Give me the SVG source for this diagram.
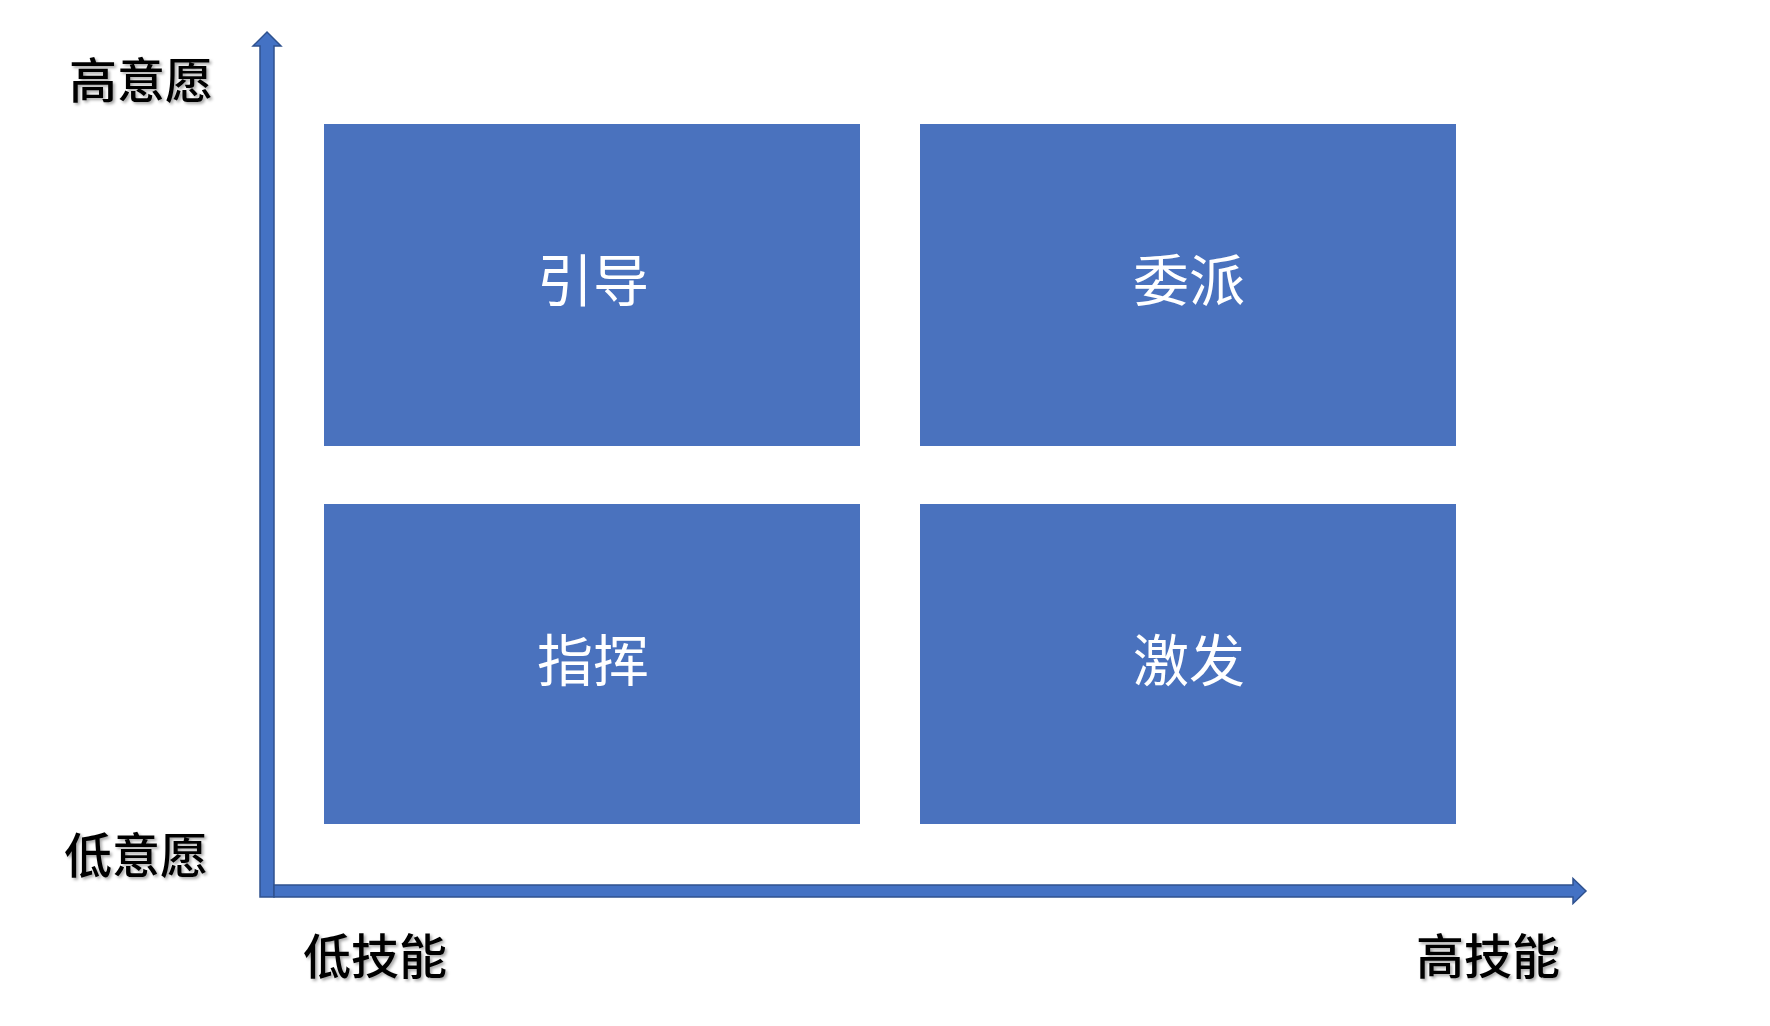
<svg xmlns="http://www.w3.org/2000/svg" width="1770" height="1026" viewBox="0 0 1770 1026">
  <style>
    .box { fill: #4A72BE; }
    .arrow { fill: #4472C4; stroke: #2F528F; stroke-width: 1.5; stroke-linejoin: miter; }
    .lbl { font-family: "Noto Sans CJK SC", "Noto Sans", sans-serif; font-size: 56px; fill: #FFFFFF; text-anchor: middle; dominant-baseline: central; }
    .axis { font-family: "Noto Sans CJK SC", "Noto Sans", sans-serif; font-size: 48px; font-weight: 500; fill: #000000; filter: url(#shadow); }
  </style>
  <defs>
    <filter id="shadow" x="-10%" y="-20%" width="130%" height="160%">
      <feDropShadow dx="2" dy="2" stdDeviation="1.5" flood-color="#000000" flood-opacity="0.35"/>
    </filter>
  </defs>
  <rect width="1770" height="1026" fill="#FFFFFF"/>

  <g id="connectors">
    <polygon class="arrow" points="260,897 260,46 253,46 267,32 281,46 274,46 274,897"/>
    <polygon class="arrow" points="274,885 1573,885 1573,878.5 1586,891 1573,903.5 1573,897 274,897"/>
  </g>

  <g id="node-yindao">
    <rect class="box" x="324" y="124" width="536" height="322"/>
    <text class="lbl" x="593" y="276">引导</text>
  </g>
  <g id="node-weipai">
    <rect class="box" x="920" y="124" width="536" height="322"/>
    <text class="lbl" x="1189" y="276">委派</text>
  </g>
  <g id="node-zhihui">
    <rect class="box" x="324" y="504" width="536" height="320"/>
    <text class="lbl" x="593" y="656">指挥</text>
  </g>
  <g id="node-jifa">
    <rect class="box" x="920" y="504" width="536" height="320"/>
    <text class="lbl" x="1189" y="656">激发</text>
  </g>

  <g id="axis-labels">
    <text class="axis" x="69" y="98">高意愿</text>
    <text class="axis" x="64" y="873">低意愿</text>
    <text class="axis" x="303" y="974">低技能</text>
    <text class="axis" x="1416" y="974">高技能</text>
  </g>
</svg>
